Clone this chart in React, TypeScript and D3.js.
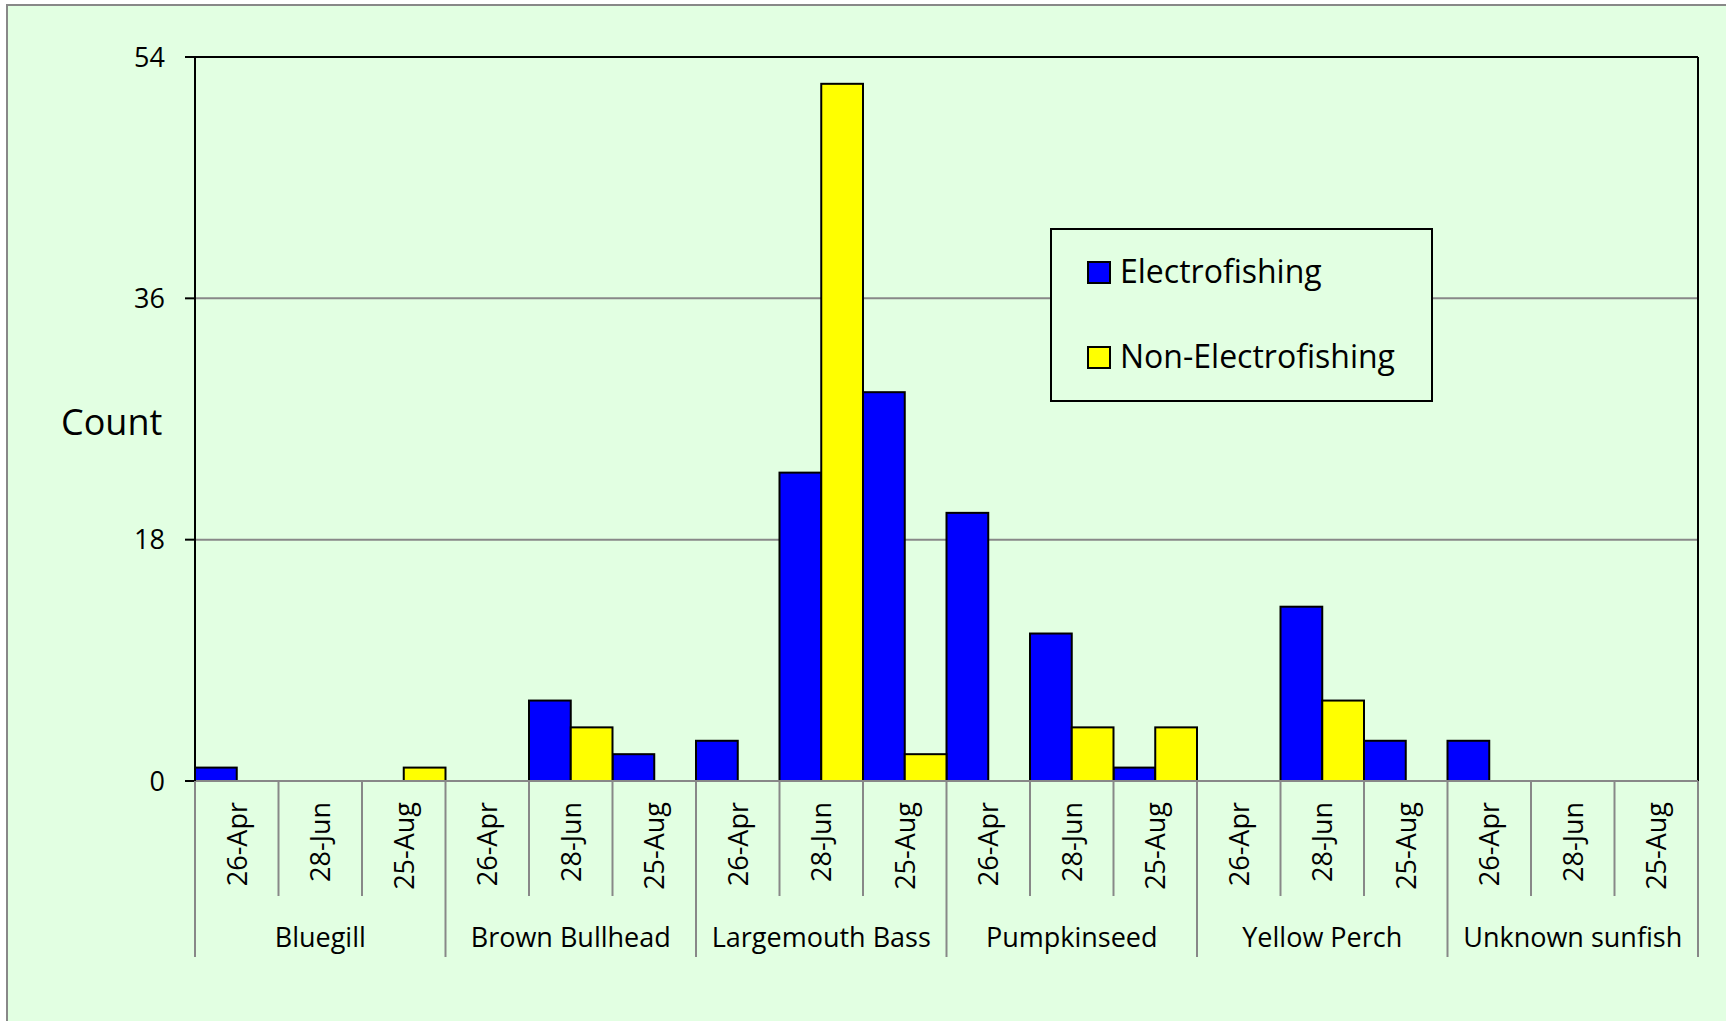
import React from "react";
import * as d3 from "d3";

const species = ["Bluegill", "Brown Bullhead", "Largemouth Bass", "Pumpkinseed", "Yellow Perch", "Unknown sunfish"];
const dates = ["26-Apr", "28-Jun", "25-Aug"];
const seriesNames = ["Electrofishing", "Non-Electrofishing"];
const seriesColors = ["#0000FF", "#FFFF00"];
// values in order species x dates
const electro = [1, 0, 0, 0, 6, 2, 3, 23, 29, 20, 11, 1, 0, 13, 3, 3, 0, 0];
const nonElectro = [0, 0, 1, 0, 4, 0, 0, 52, 2, 0, 4, 4, 0, 6, 0, 0, 0, 0];
const yTicks = [0, 18, 36, 54];

const W = 1726, H = 1021;
const left = 195, right = 1698, top = 57, bottom = 781;
const FONT = "'Open Sans', sans-serif";

export default function App() {
  const cats = species.flatMap((s) => dates.map((d) => `${s}|${d}`));
  const x = d3.scaleBand<string>().domain(cats).range([left, right]).paddingInner(0).paddingOuter(0);
  const xs = d3.scaleBand<number>().domain([0, 1]).range([0, x.bandwidth()]).padding(0);
  const y = d3.scaleLinear().domain([0, 54]).range([bottom, top]);
  const series = [electro, nonElectro];
  const bw = x.bandwidth();
  const groupW = bw * dates.length;

  return (
    <svg width={W} height={H} style={{ position: "absolute", left: 0, top: 0 }} fontFamily={FONT}>
      <rect x={7} y={5} width={W + 10} height={H + 10} fill="#E2FFE2" stroke="#888" strokeWidth={2} />
      {/* gridlines */}
      {yTicks.filter((t) => t > 0 && t < 54).map((t) => (
        <line key={t} x1={left} x2={right} y1={y(t)} y2={y(t)} stroke="#888" strokeWidth={2} />
      ))}
      {/* plot border top & right */}
      <line x1={left} x2={right} y1={y(54)} y2={y(54)} stroke="#000" strokeWidth={2} />
      <line x1={right} x2={right} y1={top} y2={bottom} stroke="#000" strokeWidth={2} />
      {/* bars */}
      {series.map((vals, si) =>
        vals.map((v, i) =>
          v > 0 ? (
            <rect
              key={`${si}-${i}`}
              x={(x(cats[i]) as number) + (xs(si) as number)}
              y={y(v)}
              width={xs.bandwidth()}
              height={y(0) - y(v)}
              fill={seriesColors[si]}
              stroke="#000"
              strokeWidth={2}
            />
          ) : null
        )
      )}
      {/* x axis line */}
      <line x1={left} x2={right} y1={bottom} y2={bottom} stroke="#888" strokeWidth={2} />
      {/* y axis */}
      <line x1={left} x2={left} y1={top} y2={bottom} stroke="#000" strokeWidth={2} />
      {yTicks.map((t) => (
        <g key={t}>
          <line x1={185} x2={left} y1={y(t)} y2={y(t)} stroke="#000" strokeWidth={2} />
          <text x={165} y={y(t)} dy="0.36em" textAnchor="end" fontSize={27} fill="#000">{t}</text>
        </g>
      ))}
      <text x={61} y={435} fontSize={36} fill="#000">Count</text>
      {/* category separators & labels */}
      {cats.map((c, i) => {
        const x0 = x(c) as number;
        const isGroupStart = i % dates.length === 0;
        const cx = x0 + bw / 2;
        return (
          <g key={c}>
            <line x1={x0} x2={x0} y1={bottom} y2={isGroupStart ? 957 : 896} stroke="#888" strokeWidth={2} />
            <text transform={`translate(${cx + 10},${802}) rotate(-90)`} textAnchor="end" fontSize={27} fill="#000">
              {dates[i % dates.length]}
            </text>
          </g>
        );
      })}
      <line x1={right} x2={right} y1={bottom} y2={957} stroke="#888" strokeWidth={2} />
      {species.map((s, gi) => {
        const gx = (x(`${s}|${dates[0]}`) as number) + groupW / 2;
        return (
          <text key={s} x={gx} y={947} textAnchor="middle" fontSize={27} fill="#000">{s}</text>
        );
      })}
      {/* legend */}
      <rect x={1051} y={229} width={381} height={172} fill="#E2FFE2" stroke="#000" strokeWidth={2} />
      {seriesNames.map((n, i) => (
        <g key={n}>
          <rect x={1088} y={262 + i * 85} width={22} height={21} fill={seriesColors[i]} stroke="#000" strokeWidth={2} />
          <text x={1120} y={283 + i * 85} fontSize={32} fill="#000">{n}</text>
        </g>
      ))}
    </svg>
  );
}
